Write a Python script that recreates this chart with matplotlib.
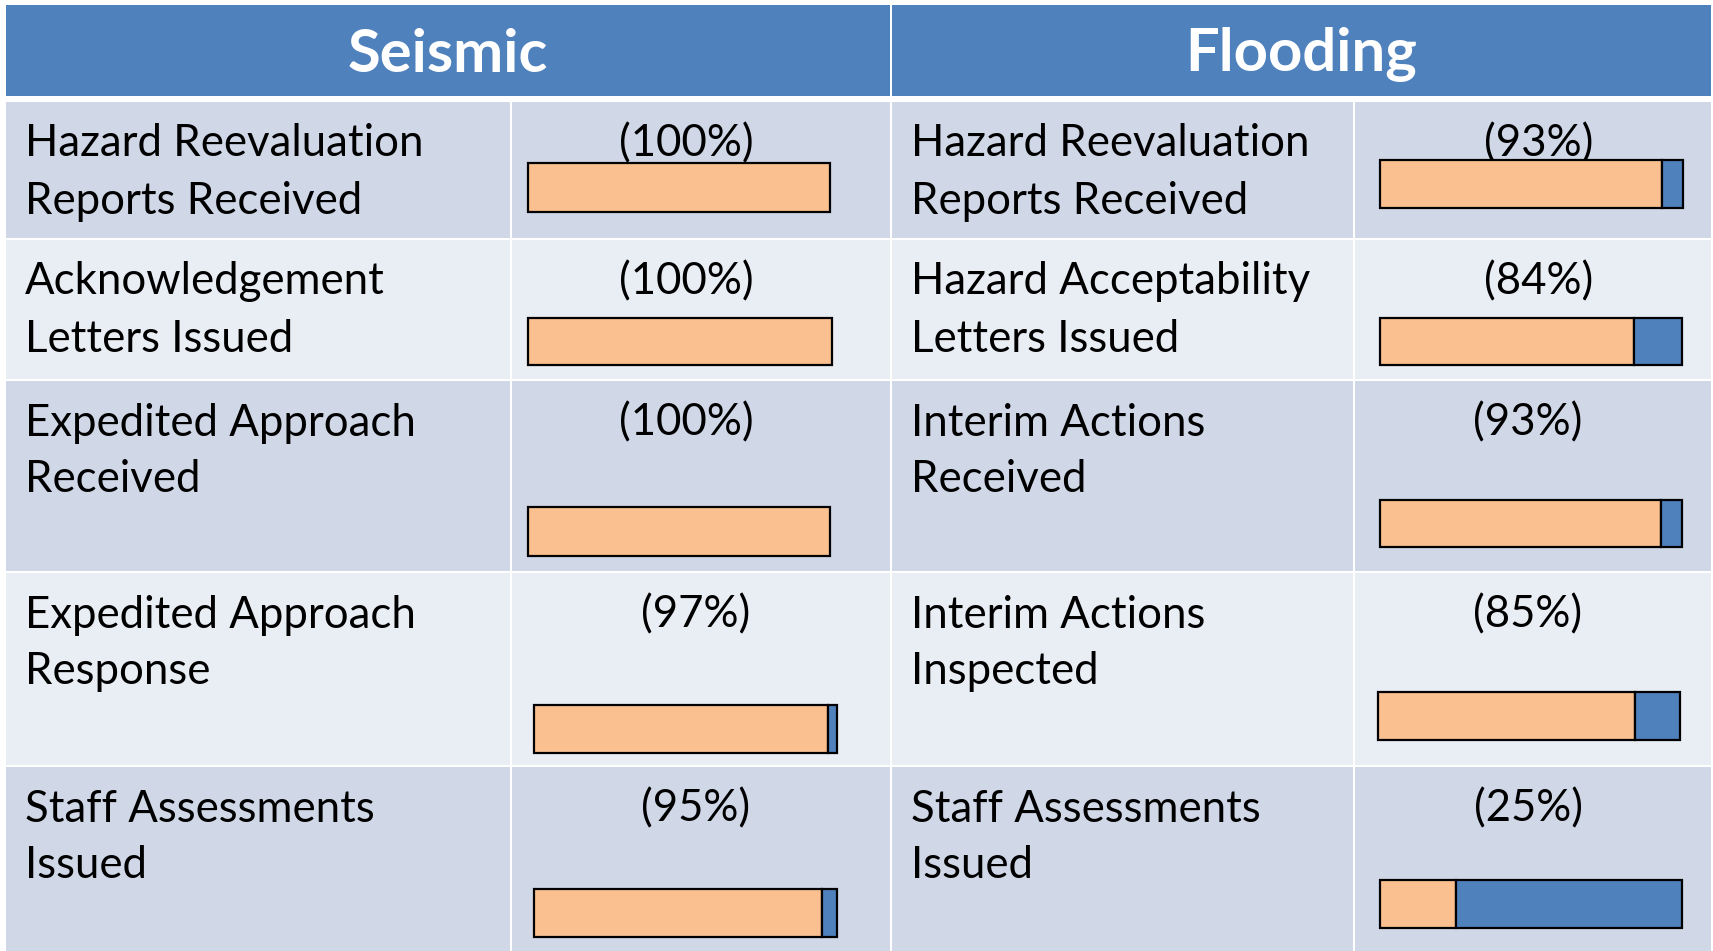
import matplotlib.pyplot as plt
from matplotlib.patches import Rectangle

plt.rcParams['font.family'] = ['Lato', 'DejaVu Sans']

# Data
seismic_labels = [
    "Hazard Reevaluation\nReports Received",
    "Acknowledgement\nLetters Issued",
    "Expedited Approach\nReceived",
    "Expedited Approach\nResponse",
    "Staff Assessments\nIssued",
]
seismic_pct = [100, 100, 100, 97, 95]

flooding_labels = [
    "Hazard Reevaluation\nReports Received",
    "Hazard Acceptability\nLetters Issued",
    "Interim Actions\nReceived",
    "Interim Actions\nInspected",
    "Staff Assessments\nIssued",
]
flooding_pct = [93, 84, 93, 85, 25]

headers = ["Seismic", "Flooding"]

# Colours
header_blue = "#4F81BD"
row_dark = "#D0D8E8"
row_light = "#E9EDF4"
done_orange = "#FAC090"
left_blue = "#4F81BD"

# Layout in pixels (figure is 1713 x 951)
W, H = 1713, 951
col_edges = [(6, 510), (512, 890), (892, 1353), (1355, 1711)]
header_y = (5, 96)
row_edges = [(102, 238), (240, 379), (381, 571), (573, 765), (767, 951)]
row_colors = [row_dark, row_light, row_dark, row_light, row_dark]
line_gap = 57

# bar boxes per row: (x0, x1, y0, y1)
seismic_bars = [(528, 830, 163, 212), (528, 832, 318, 365), (528, 830, 507, 556),
                (534, 837, 705, 753), (534, 837, 889, 937)]
flooding_bars = [(1380, 1683, 160, 208), (1380, 1682, 318, 365), (1380, 1682, 500, 547),
                 (1378, 1680, 692, 740), (1380, 1682, 880, 928)]
seismic_pct_x = [686, 686, 686, 696, 696]
flooding_pct_x = [1539, 1539, 1528, 1528, 1528]


def fig_rect(x0, x1, y0, y1):
    return [x0 / W, 1 - y1 / H, (x1 - x0) / W, (y1 - y0) / H]


fig = plt.figure(figsize=(W / 100, H / 100), dpi=100)
bg = fig.add_axes([0, 0, 1, 1])
bg.set_xlim(0, W)
bg.set_ylim(H, 0)
bg.axis('off')

# header cells
for i, name in enumerate(headers):
    x0 = col_edges[2 * i][0]
    x1 = col_edges[2 * i + 1][1]
    bg.add_patch(Rectangle((x0, header_y[0]), x1 - x0, header_y[1] - header_y[0],
                           facecolor=header_blue, edgecolor='none'))
    bg.text((x0 + x1) / 2, (header_y[0] + header_y[1]) / 2 + 4, name, color='white',
            fontsize=43, fontweight='bold', ha='center', va='center')

# body cells
for r, (y0, y1) in enumerate(row_edges):
    for (x0, x1) in col_edges:
        bg.add_patch(Rectangle((x0, y0), x1 - x0, y1 - y0,
                               facecolor=row_colors[r], edgecolor='none'))

for labels, pcts, bars, px, lx in [
        (seismic_labels, seismic_pct, seismic_bars, seismic_pct_x, 25),
        (flooding_labels, flooding_pct, flooding_bars, flooding_pct_x, 911)]:
    for r, (y0, y1) in enumerate(row_edges):
        for k, line in enumerate(labels[r].split("\n")):
            bg.text(lx, y0 + 42 + k * line_gap, line, fontsize=31.5, ha='left',
                    va='center', color='black')
        bg.text(px[r], y0 + 42, f"({pcts[r]}%)", fontsize=31.5, ha='center',
                va='center', color='black')
        bx0, bx1, by0, by1 = bars[r]
        ax = fig.add_axes(fig_rect(bx0, bx1, by0, by1))
        ax.barh(0, pcts[r], height=1, color=done_orange, edgecolor='black',
                linewidth=1.6, clip_on=False)
        if pcts[r] < 100:
            ax.barh(0, 100 - pcts[r], left=pcts[r], height=1, color=left_blue,
                    edgecolor='black', linewidth=1.6, clip_on=False)
        ax.set_xlim(0, 100)
        ax.set_ylim(-0.5, 0.5)
        ax.axis('off')

fig.savefig("out.png", dpi=100)
